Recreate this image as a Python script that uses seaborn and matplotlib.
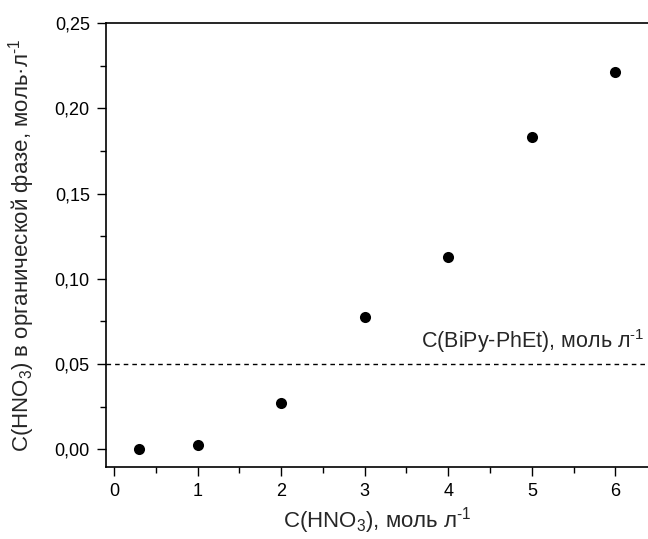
import numpy as np
import pandas as pd
import matplotlib
matplotlib.use("Agg")
import matplotlib.pyplot as plt
from matplotlib.ticker import MultipleLocator, FixedLocator
import seaborn as sns

# -------------------------------
# Data
# -------------------------------
c_hno3_aq = [0.3, 1, 2, 3, 4, 5, 6]
c_hno3_org = [0.000, 0.0025, 0.027, 0.0775, 0.1125, 0.183, 0.221]
c_ligand = 0.05

x_ticks = [0, 1, 2, 3, 4, 5, 6]
x_tick_labels = ["0", "1", "2", "3", "4", "5", "6"]
y_ticks = [0.00, 0.05, 0.10, 0.15, 0.20, 0.25]
y_tick_labels = ["0,00", "0,05", "0,10", "0,15", "0,20", "0,25"]

df = pd.DataFrame({"aq": c_hno3_aq, "org": c_hno3_org})

# -------------------------------
# Style
# -------------------------------
sns.set_style("ticks")
plt.rcParams["font.family"] = ["Liberation Sans", "DejaVu Sans"]
plt.rcParams["mathtext.fontset"] = "custom"
plt.rcParams["mathtext.rm"] = "Liberation Sans"
plt.rcParams["mathtext.it"] = "Liberation Sans:italic"
plt.rcParams["mathtext.bf"] = "Liberation Sans:bold"

fig = plt.figure(figsize=(6.48, 5.39), dpi=100)
# axes box: left spine at x=106 px, top at y=23 px, bottom at y=467 px, runs off the right edge
ax = fig.add_axes([106 / 648, 1 - 467 / 539, 1 - 106 / 648, 444 / 539])

sns.scatterplot(data=df, x="aq", y="org", ax=ax, color="black",
                s=64, edgecolor="black", linewidth=0, zorder=3, legend=False)

# dashed line: ligand concentration
ax.axhline(c_ligand, color="black", linestyle=(0, (3.3, 2.9)), linewidth=1.0)
ax.text(6.35, 0.0594, r"C(BiPy-PhEt), моль л$^{\text{-1}}$",
        ha="right", va="baseline", fontsize=15.5)

ax.set_xlim(-0.096, 6.39)
ax.set_ylim(-0.0104, 0.25)

ax.xaxis.set_major_locator(FixedLocator(x_ticks))
ax.set_xticklabels(x_tick_labels)
ax.xaxis.set_minor_locator(MultipleLocator(0.5))
ax.yaxis.set_major_locator(FixedLocator(y_ticks))
ax.set_yticklabels(y_tick_labels)
ax.yaxis.set_minor_locator(MultipleLocator(0.025))

ax.tick_params(which="major", direction="out", length=6.7, width=1.0,
               labelsize=13, color="black", labelcolor="black", pad=5)
ax.tick_params(which="minor", direction="out", length=4.5, width=1.0, color="black")

for side in ["left", "bottom", "top"]:
    ax.spines[side].set_visible(True)
    ax.spines[side].set_linewidth(1.2)
    ax.spines[side].set_color("black")
ax.spines["right"].set_visible(False)

ax.set_xlabel(r"C(HNO$_3$), моль л$^{\text{-1}}$", fontsize=16)
ax.set_ylabel(r"C(HNO$_3$) в органической фазе, моль·л$^{\text{-1}}$", fontsize=16)
ax.xaxis.set_label_coords(0.5, (467 - 505) / 444)
ax.yaxis.set_label_coords((37 - 106) / 542, 0.5)

fig.savefig("out.png", dpi=100)
